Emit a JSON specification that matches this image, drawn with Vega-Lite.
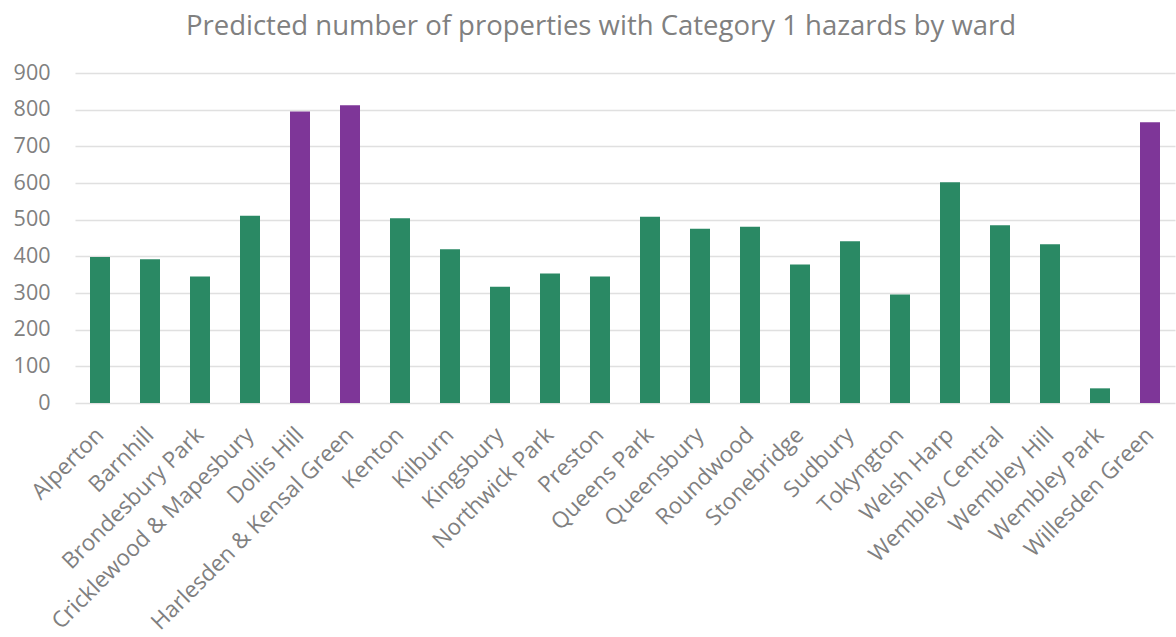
{
  "$schema": "https://vega.github.io/schema/vega-lite/v6.json",
  "autosize": "none",
  "width": 1100,
  "height": 330,
  "padding": {"left": 75, "top": 73, "right": 1, "bottom": 234},
  "background": "white",
  "title": {
    "text": "Predicted number of properties with Category 1 hazards by ward",
    "font": "Open Sans",
    "fontSize": 27.5,
    "fontWeight": "normal",
    "color": "#808080",
    "anchor": "middle",
    "baseline": "alphabetic",
    "dx": -24,
    "offset": 0
  },
  "data": {
    "values": [
      {"ward": "Alperton", "properties": 398},
      {"ward": "Barnhill", "properties": 392},
      {"ward": "Brondesbury Park", "properties": 345},
      {"ward": "Cricklewood & Mapesbury", "properties": 511},
      {"ward": "Dollis Hill", "properties": 795},
      {"ward": "Harlesden & Kensal Green", "properties": 812},
      {"ward": "Kenton", "properties": 504},
      {"ward": "Kilburn", "properties": 419},
      {"ward": "Kingsbury", "properties": 317},
      {"ward": "Northwick Park", "properties": 353},
      {"ward": "Preston", "properties": 345},
      {"ward": "Queens Park", "properties": 508},
      {"ward": "Queensbury", "properties": 475},
      {"ward": "Roundwood", "properties": 481},
      {"ward": "Stonebridge", "properties": 378},
      {"ward": "Sudbury", "properties": 441},
      {"ward": "Tokyngton", "properties": 296},
      {"ward": "Welsh Harp", "properties": 602},
      {"ward": "Wembley Central", "properties": 485},
      {"ward": "Wembley Hill", "properties": 433},
      {"ward": "Wembley Park", "properties": 40},
      {"ward": "Willesden Green", "properties": 766}
    ]
  },
  "mark": {"type": "bar"},
  "encoding": {
    "x": {
      "field": "ward",
      "type": "nominal",
      "sort": null,
      "title": null,
      "scale": {"paddingInner": 0.6, "paddingOuter": 0.3},
      "axis": {
        "domain": false,
        "ticks": false,
        "labelAngle": -45,
        "labelAlign": "right",
        "labelBaseline": "middle",
        "labelFont": "Open Sans",
        "labelFontSize": 22.5,
        "labelColor": "#808080",
        "labelPadding": 28,
        "labelLimit": 400,
        "grid": false
      }
    },
    "y": {
      "field": "properties",
      "type": "quantitative",
      "title": null,
      "scale": {"domain": [0, 900]},
      "axis": {
        "values": [0, 100, 200, 300, 400, 500, 600, 700, 800, 900],
        "domain": false,
        "ticks": false,
        "labelFont": "Open Sans",
        "labelFontSize": 21.5,
        "labelColor": "#808080",
        "labelPadding": 25,
        "gridColor": "#e0e0e0",
        "gridWidth": 1.5
      }
    },
    "color": {
      "condition": {"test": "datum.properties > 700", "value": "#7e3698"},
      "value": "#2a8964"
    }
  },
  "config": {"view": {"stroke": null}}
}
